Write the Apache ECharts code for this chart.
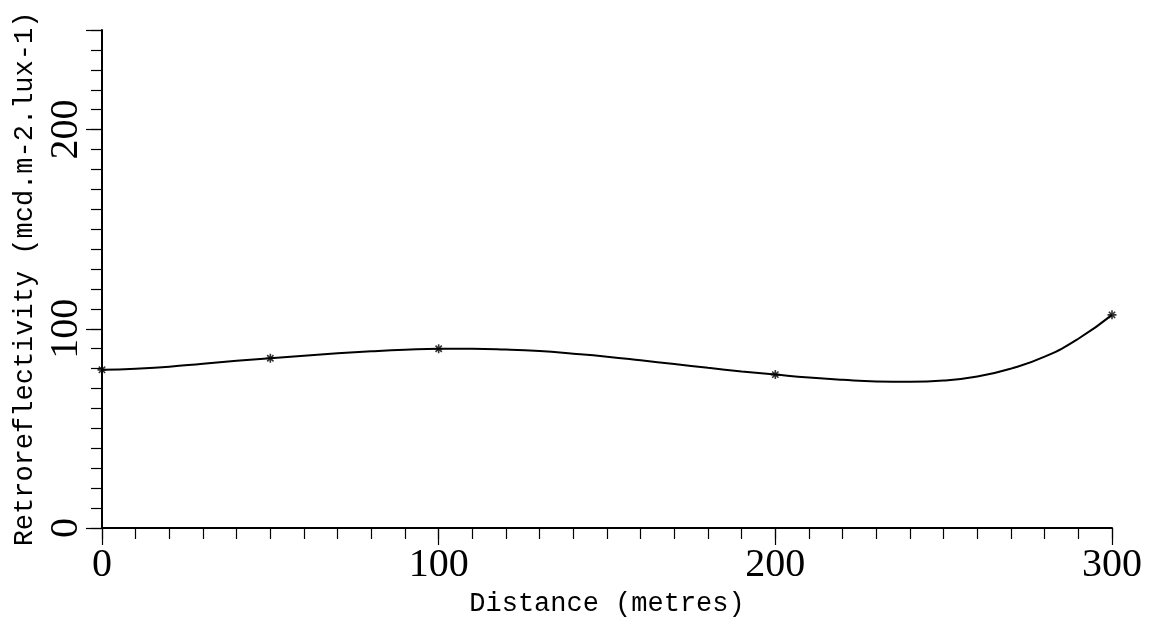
<!DOCTYPE html>
<html>
<head>
<meta charset="utf-8">
<script src="https://cdn.jsdelivr.net/npm/echarts@6/dist/echarts.min.js"></script>
<style>
html,body{margin:0;padding:0;background:#fff;}
#chart{width:1157px;height:627px;}
</style>
</head>
<body>
<div id="chart"></div>
<script>
// Measured points (markers)
var pointDistance = [0, 50, 100, 200, 300];
var pointRetro = [79.4, 85.2, 90, 77, 107];
// Fitted curve
var curveDistance = [0, 10, 20, 30, 40, 50, 60, 70, 80, 90, 100, 110, 120, 130, 140, 150, 160, 170, 180, 190, 200, 210, 220, 230, 240, 250, 260, 270, 280, 290, 300];
var curveRetro = [79.4, 80.0, 81.0, 82.5, 83.9, 85.2, 86.5, 87.7, 88.7, 89.5, 90, 90, 89.6, 88.8, 87.5, 86, 84.2, 82.3, 80.4, 78.6, 77, 75.5, 74.4, 73.6, 73.4, 74, 76, 80, 86, 95, 107];
var xTickLabels = [0, 100, 200, 300];
var yTickLabels = [0, 100, 200];
var xTitle = 'Distance (metres)';
var yTitle = 'Retroreflectivity (mcd.m-2.lux-1)';

var chart = echarts.init(document.getElementById('chart'), null, {renderer: 'canvas'});
var black = '#000';
var tickFont = {fontFamily: '"Liberation Serif", serif', fontSize: 40, color: black};
var nameFont = {fontFamily: '"Liberation Mono", "Courier New", Courier, monospace', fontSize: 27, color: black};

function pairs(xs, ys) { return xs.map(function (x, i) { return [x, ys[i]]; }); }

chart.setOption({
  animation: false,
  backgroundColor: '#fff',
  grid: {left: 102, right: 45, top: 30, bottom: 99, containLabel: false},
  xAxis: [{
    type: 'value', min: 0, max: 300, interval: 10,
    name: xTitle, nameLocation: 'middle', nameGap: 60, nameTextStyle: nameFont,
    axisLine: {show: true, lineStyle: {color: black, width: 2}},
    axisTick: {show: true, length: 11, lineStyle: {color: black, width: 1.2}},
    axisLabel: Object.assign({margin: 17, formatter: function (v) { return xTickLabels.indexOf(v) >= 0 ? String(v) : ''; }}, tickFont),
    splitLine: {show: false}
  }, {
    type: 'value', min: 0, max: 300, interval: 100, position: 'bottom',
    axisLine: {show: false},
    axisTick: {show: true, length: 17, lineStyle: {color: black, width: 1.2}},
    axisLabel: {show: false}, splitLine: {show: false}
  }],
  yAxis: [{
    type: 'value', min: 0, max: 250, interval: 10,
    name: yTitle, nameLocation: 'middle', nameGap: 59, nameTextStyle: nameFont,
    axisLine: {show: true, lineStyle: {color: black, width: 2}},
    axisTick: {show: true, length: 11, lineStyle: {color: black, width: 1.2}},
    axisLabel: Object.assign({rotate: 90, margin: 16, formatter: function (v) { return yTickLabels.indexOf(v) >= 0 ? String(v) : ''; }}, tickFont),
    splitLine: {show: false}
  }, {
    type: 'value', min: 0, max: 250, interval: 100, position: 'left',
    axisLine: {show: false},
    axisTick: {show: true, length: 16, lineStyle: {color: black, width: 1.2}},
    axisLabel: {show: false}, splitLine: {show: false}
  }],
  series: [{
    type: 'line', xAxisIndex: 0, yAxisIndex: 0,
    data: pairs(curveDistance, curveRetro),
    smooth: true, showSymbol: false, symbol: 'none',
    lineStyle: {color: black, width: 2}, z: 3
  }, {
    type: 'scatter', xAxisIndex: 0, yAxisIndex: 0,
    data: pairs(pointDistance, pointRetro),
    symbol: 'path://M5,0L5,10M0,5L10,5M1.5,1.5L8.5,8.5M1.5,8.5L8.5,1.5',
    symbolSize: 9,
    itemStyle: {color: black, borderColor: black, borderWidth: 1.6}, z: 4
  }]
});
</script>
</body>
</html>
